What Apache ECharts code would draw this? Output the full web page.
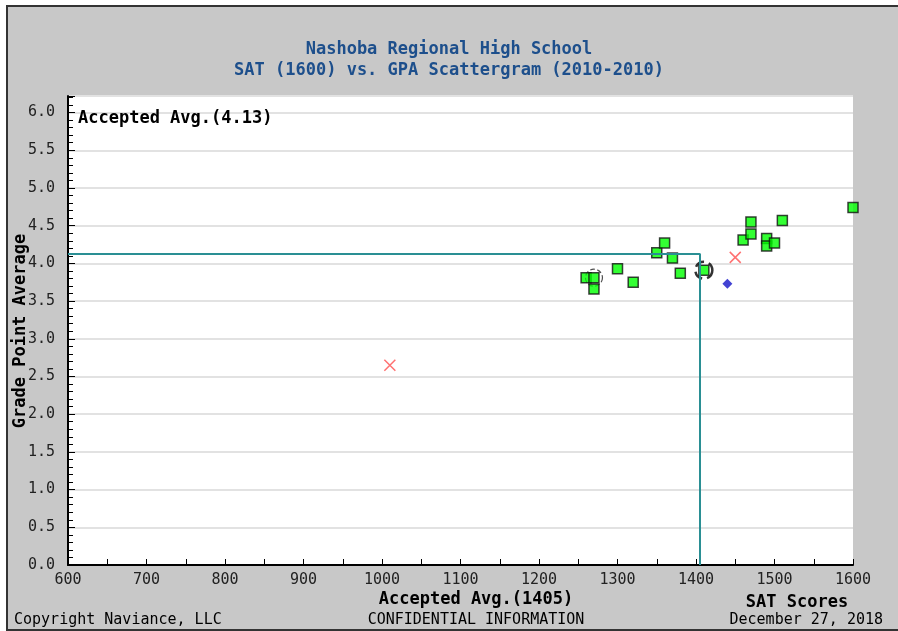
<!DOCTYPE html>
<html>
<head>
<meta charset="utf-8">
<title>SAT vs GPA Scattergram</title>
<script src="https://cdn.jsdelivr.net/npm/echarts@6/dist/echarts.min.js"></script>
<style>
  html, body { margin: 0; padding: 0; background: #fff; }
  #main { width: 898px; height: 631px; }
</style>
</head>
<body>
<div id="main"></div>
<script>
// 数据
var acceptedSat = [1260, 1270, 1270, 1300, 1320, 1350, 1360, 1370, 1380, 1410, 1460, 1470, 1470, 1490, 1490, 1500, 1510, 1600];
var acceptedGpa = [3.81, 3.81, 3.66, 3.93, 3.75, 4.14, 4.27, 4.07, 3.87, 3.91, 4.31, 4.39, 4.55, 4.33, 4.23, 4.27, 4.57, 4.74];
var deniedSat = [1010, 1450];
var deniedGpa = [2.65, 4.08];
var otherSat = [1440];
var otherGpa = [3.73];
var ringSat = [1270, 1410];
var ringGpa = [3.81, 3.91];
var avgSat = 1405;
var avgGpa = 4.13;

var titleLines = ['Nashoba Regional High School', 'SAT (1600) vs. GPA Scattergram (2010-2010)'];

function pairs(xs, ys) {
  return xs.map(function (x, i) { return [x, ys[i]]; });
}

var mono = '"DejaVu Sans Mono", monospace';
var chart = echarts.init(document.getElementById('main'), null, { renderer: 'canvas' });

// 圈的样式（第一个细，第二个粗）
var ringStyles = [
  { color: '#fff', borderColor: '#222', borderWidth: 1.2, borderType: 'dashed' },
  { color: '#fff', borderColor: '#000', borderWidth: 2.5, borderType: 'dashed' }
];

var option = {
  backgroundColor: '#fff',
  animation: false,
  grid: {
    left: 68, right: 45, top: 96, bottom: 66,
    show: true, backgroundColor: '#fff', borderWidth: 0
  },
  xAxis: {
    type: 'value',
    min: 600, max: 1600, interval: 100,
    axisLine: { show: true, onZero: false, lineStyle: { color: '#000', width: 2 } },
    axisTick: { show: true, inside: true, length: 6, lineStyle: { color: '#000' } },
    minorTick: { show: true, splitNumber: 2, length: 6, lineStyle: { color: '#000' } },
    axisLabel: {
      color: '#222', fontFamily: mono, fontSize: 15, margin: 8,
      formatter: function (v) { return String(v); }
    },
    splitLine: { show: false }
  },
  yAxis: {
    type: 'value',
    min: 0, max: 6.22, interval: 0.5,
    axisLine: { show: true, onZero: false, lineStyle: { color: '#000', width: 2 } },
    axisTick: { show: true, inside: true, length: 7, lineStyle: { color: '#000' } },
    minorTick: { show: true, splitNumber: 5, length: 5, lineStyle: { color: '#000' } },
    axisLabel: {
      color: '#222', fontFamily: mono, fontSize: 15, margin: 13, showMaxLabel: false,
      formatter: function (v) { return v.toFixed(1); }
    },
    splitLine: { show: true, lineStyle: { color: '#e2e2e2', width: 2 } }
  },
  graphic: [
    // 外框
    { type: 'rect', z: -10, shape: { x: 7, y: 6, width: 900, height: 624 },
      style: { fill: '#c8c8c8', stroke: '#333', lineWidth: 2 } },
    { type: 'text', left: 'center', top: 41, style: { text: titleLines[0], font: 'bold 17px ' + mono, fill: '#1d4f8c' } },
    { type: 'text', left: 'center', top: 62, style: { text: titleLines[1], font: 'bold 17px ' + mono, fill: '#1d4f8c' } },
    { type: 'text', x: 78, y: 110, z: 10, style: { text: 'Accepted Avg.(' + avgGpa.toFixed(2) + ')', font: 'bold 17px ' + mono, fill: '#000' } },
    { type: 'text', x: 476, y: 600, style: { text: 'Accepted Avg.(' + avgSat + ')', font: 'bold 17px ' + mono, fill: '#000', align: 'center', verticalAlign: 'middle' } },
    { type: 'text', x: 797, y: 603, style: { text: 'SAT Scores', font: 'bold 17px ' + mono, fill: '#000', align: 'center', verticalAlign: 'middle' } },
    { type: 'text', x: 21, y: 331, rotation: Math.PI / 2, style: { text: 'Grade Point Average', font: 'bold 17px ' + mono, fill: '#000', align: 'center', verticalAlign: 'middle' } },
    { type: 'text', x: 14, y: 620, style: { text: 'Copyright Naviance, LLC', font: '15px ' + mono, fill: '#000', verticalAlign: 'middle' } },
    { type: 'text', x: 476, y: 620, style: { text: 'CONFIDENTIAL INFORMATION', font: '15px ' + mono, fill: '#000', align: 'center', verticalAlign: 'middle' } },
    { type: 'text', x: 883, y: 620, style: { text: 'December 27, 2018', font: '15px ' + mono, fill: '#000', align: 'right', verticalAlign: 'middle' } }
  ],
  series: [
    {
      name: 'Ring',
      type: 'scatter',
      symbol: 'circle',
      symbolSize: 17,
      data: ringSat.map(function (x, i) {
        return { value: [x, ringGpa[i]], itemStyle: ringStyles[i] };
      }),
      z: 2
    },
    {
      name: 'Accepted',
      type: 'scatter',
      symbol: 'rect',
      symbolSize: 10,
      itemStyle: { color: '#00ff00', borderColor: '#111', borderWidth: 1.5 },
      data: pairs(acceptedSat, acceptedGpa),
      z: 3,
      markLine: {
        silent: true,
        symbol: 'none',
        label: { show: false },
        lineStyle: { color: '#2a8f94', width: 2, type: 'solid' },
        data: [
          [{ coord: [600, avgGpa] }, { coord: [avgSat, avgGpa] }],
          [{ coord: [avgSat, avgGpa] }, { coord: [avgSat, 0] }]
        ]
      }
    },
    {
      name: 'Denied',
      type: 'scatter',
      symbol: 'path://M0,0L10,10M10,0L0,10',
      symbolSize: 11,
      itemStyle: { color: 'rgba(0,0,0,0)', borderColor: '#ff4d4d', borderWidth: 1.5 },
      data: pairs(deniedSat, deniedGpa),
      z: 3
    },
    {
      name: 'Other',
      type: 'scatter',
      symbol: 'diamond',
      symbolSize: 10,
      itemStyle: { color: '#1414c8' },
      data: pairs(otherSat, otherGpa),
      z: 3
    }
  ]
};

chart.setOption(option);
</script>
</body>
</html>
